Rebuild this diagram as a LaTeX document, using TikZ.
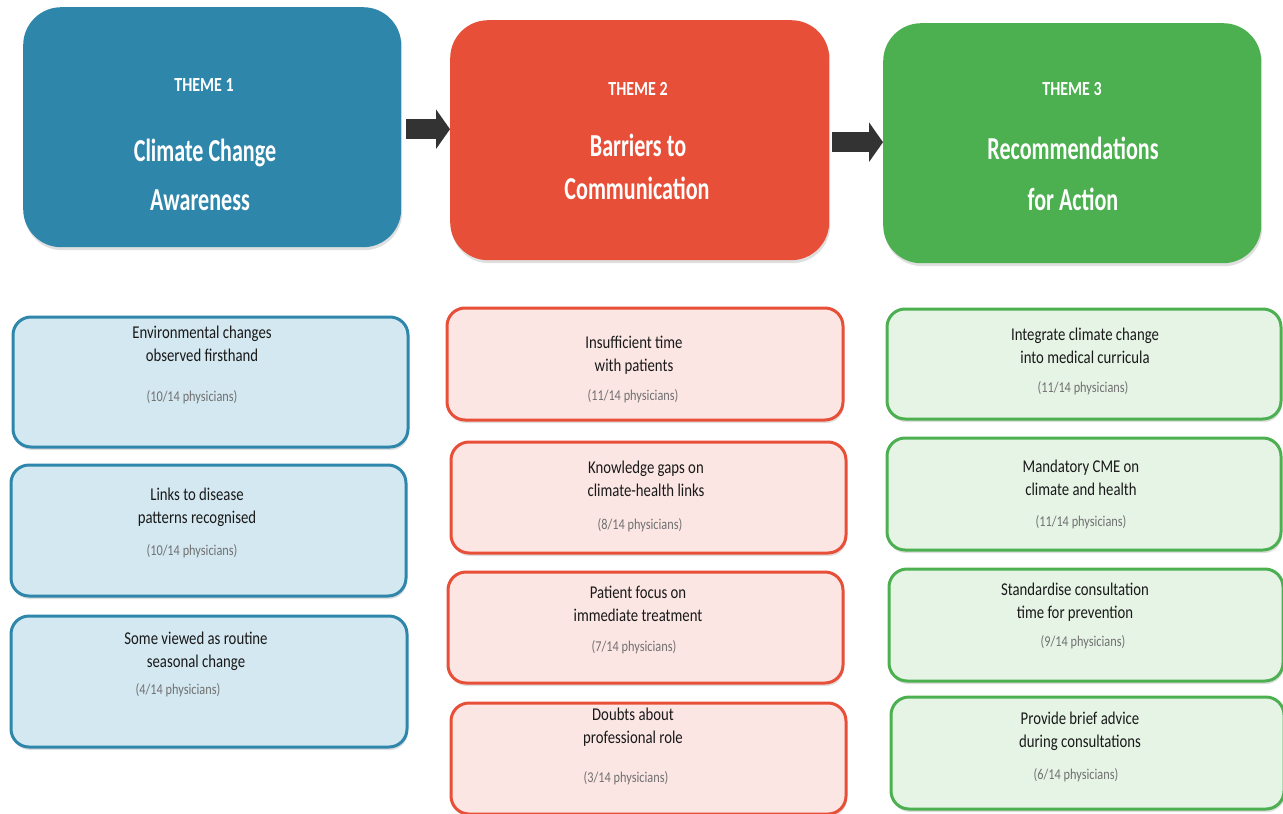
\documentclass[tikz,border=0pt]{standalone}
\usepackage{fontspec}
\setmainfont{Carlito}
\newfontfamily\bodyfont[FakeStretch=0.82]{Carlito}
\newfontfamily\headfont[FakeStretch=0.69]{Carlito}
\newfontfamily\thmfont[FakeStretch=0.8]{Carlito}
\usetikzlibrary{arrows.meta,shadows}
\definecolor{tblue}{RGB}{46,134,171}
\definecolor{tred}{RGB}{232,79,56}
\definecolor{tgreen}{RGB}{76,175,80}
\definecolor{lblue}{RGB}{212,232,241}
\definecolor{lred}{RGB}{251,230,228}
\definecolor{lgreen}{RGB}{230,244,230}
\definecolor{cntgrey}{RGB}{112,112,112}
\definecolor{arrgrey}{RGB}{51,51,51}
\definecolor{bodyblack}{RGB}{25,25,25}
\begin{document}
\begin{tikzpicture}[x=1pt,y=-1pt,
  header/.style={rectangle, rounded corners=38pt, anchor=north west, draw=none, inner sep=0pt,
    drop shadow={opacity=0.25, shadow xshift=1pt, shadow yshift=-3pt}},
  card/.style={rectangle, rounded corners=18pt, anchor=north west, line width=3pt, inner sep=0pt,
    drop shadow={opacity=0.25, shadow xshift=1pt, shadow yshift=-3pt}},
  bcard/.style={card, draw=tblue, fill=lblue},
  rcard/.style={card, draw=tred, fill=lred},
  gcard/.style={card, draw=tgreen, fill=lgreen},
  thm/.style={text=white, font=\thmfont\bfseries\fontsize{20}{20}\selectfont, text height=0.7em, text depth=0pt, inner sep=0pt, yshift=-4pt},
  ttl/.style={text=white, font=\headfont\bfseries\fontsize{32}{32}\selectfont, text height=0.7em, text depth=0pt, inner sep=0pt, yshift=-6pt},
  body/.style={align=center, text=bodyblack, font=\bodyfont\fontsize{18}{23}\selectfont, inner sep=0pt},
  cnt/.style={text=cntgrey, font=\bodyfont\fontsize{15}{15}\selectfont, text height=0.7em, text depth=0pt, inner sep=0pt, yshift=-2pt},
  flow/.style={draw=arrgrey, line width=20pt, -{Triangle[length=14pt,width=39pt]}}]
\useasboundingbox (0,0) rectangle (1283,814);

% headers
\node[header, fill=tblue, minimum width=378pt, minimum height=240pt] (h1) at (23,7) {};
\node[header, fill=tred, minimum width=379pt, minimum height=240pt] (h2) at (450,20) {};
\node[header, fill=tgreen, minimum width=378pt, minimum height=240pt] (h3) at (883,23) {};

\node[thm] (h1t) at (204,84) {THEME 1};
\node[ttl] (h1a) at (205,152) {Climate Change};
\node[ttl] (h1b) at (200,201) {Awareness};
\node[thm] (h2t) at (638,88) {THEME 2};
\node[ttl] (h2a) at (638,147) {Barriers to};
\node[ttl] (h2b) at (637,190) {Communication};
\node[thm] (h3t) at (1072,88) {THEME 3};
\node[ttl] (h3a) at (1073,150) {Recommendations};
\node[ttl] (h3b) at (1073,201) {for Action};

% arrows
\draw[flow] ([xshift=5pt,yshift=-2pt]h1.east) -- ([yshift=-2pt]h1.east -| h2.west);
\draw[flow] ([xshift=3pt,yshift=-2pt]h2.east) -- ([yshift=-2pt]h2.east -| h3.west);

% column 1
\node[bcard, minimum width=395pt, minimum height=130pt] (b1) at (11.5,315.5) {};
\node[body] (b1a) at (202,343.5) {Environmental changes\\observed firsthand};
\node[cnt] (b1c) at (192,396) {(10/14 physicians)};
\node[bcard, minimum width=395pt, minimum height=131pt] (b2) at (9.5,463.5) {};
\node[body] (b2a) at (197,507.5) {Links to disease\\patterns recognised};
\node[cnt] (b2c) at (192,550) {(10/14 physicians)};
\node[bcard, minimum width=396pt, minimum height=131pt] (b3) at (9.5,614.5) {};
\node[body] (b3a) at (196,651) {Some viewed as routine\\seasonal change};
\node[cnt] (b3c) at (178,689) {(4/14 physicians)};

% column 2
\node[rcard, minimum width=396pt, minimum height=112pt] (r1) at (445.5,306.5) {};
\node[body] (r1a) at (634,355) {Insufficient time\\with patients};
\node[cnt] (r1c) at (633,395) {(11/14 physicians)};
\node[rcard, minimum width=395pt, minimum height=111pt] (r2) at (449.5,440.5) {};
\node[body] (r2a) at (646,479) {Knowledge gaps on\\climate-health links};
\node[cnt] (r2c) at (640,524) {(8/14 physicians)};
\node[rcard, minimum width=395pt, minimum height=111pt] (r3) at (446.5,570.5) {};
\node[body] (r3a) at (638,604) {Patient focus on\\immediate treatment};
\node[cnt] (r3c) at (634,646) {(7/14 physicians)};
\node[rcard, minimum width=395pt, minimum height=111pt] (r4) at (449.5,701.5) {};
\node[body] (r4a) at (633,727.5) {Doubts about\\professional role};
\node[cnt] (r4c) at (626,777) {(3/14 physicians)};

% column 3
\node[gcard, minimum width=394pt, minimum height=110pt] (g1) at (885.5,307.5) {};
\node[body] (g1a) at (1085,346) {Integrate climate change\\into medical curricula};
\node[cnt] (g1c) at (1083,387) {(11/14 physicians)};
\node[gcard, minimum width=394pt, minimum height=112pt] (g2) at (885.5,436.5) {};
\node[body] (g2a) at (1081,478) {Mandatory CME on\\climate and health};
\node[cnt] (g2c) at (1081,521) {(11/14 physicians)};
\node[gcard, minimum width=394pt, minimum height=112pt] (g3) at (887.5,567.5) {};
\node[body] (g3a) at (1075,602) {Standardise consultation\\time for prevention};
\node[cnt] (g3c) at (1083,641) {(9/14 physicians)};
\node[gcard, minimum width=393pt, minimum height=112pt] (g4) at (889.5,695.5) {};
\node[body] (g4a) at (1080,731.5) {Provide brief advice\\during consultations};
\node[cnt] (g4c) at (1076,774) {(6/14 physicians)};
\end{tikzpicture}
\end{document}
